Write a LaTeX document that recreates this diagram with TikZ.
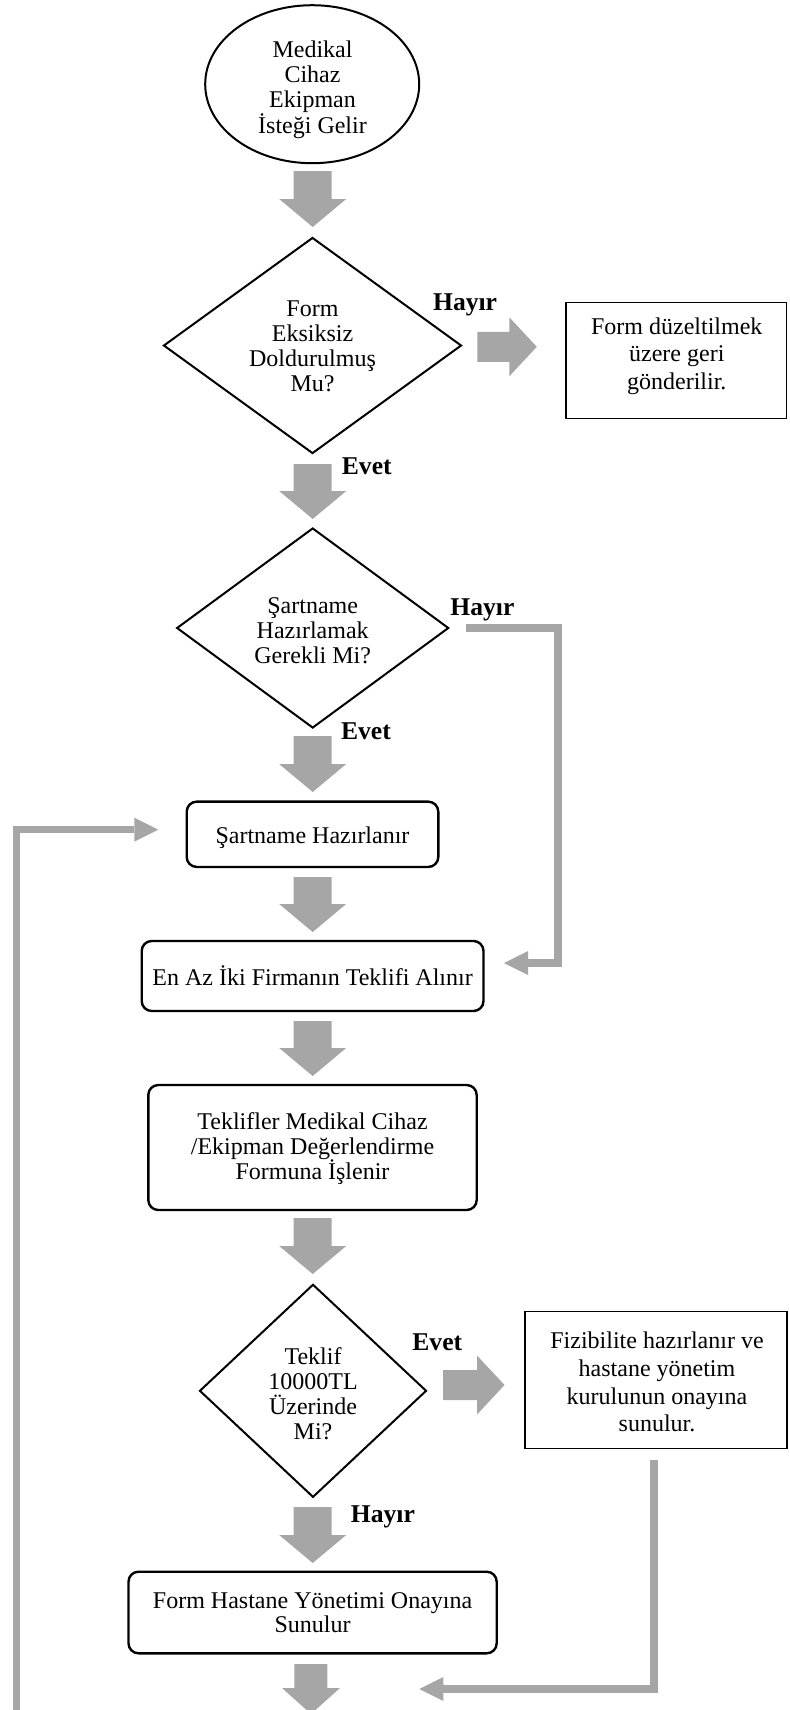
\documentclass[tikz,border=0pt]{standalone}
\usepackage{fontspec}
\setmainfont{Liberation Serif}
\usetikzlibrary{shapes.geometric,arrows.meta,calc}
\definecolor{agray}{RGB}{166,166,166}
\begin{document}
\begin{tikzpicture}[x=0.5pt,y=-0.5pt,
  txt/.style={inner sep=0pt, align=center, font=\fontsize{12}{12.5}\selectfont},
  lbl/.style={inner sep=0pt, anchor=base west, font=\fontsize{12.8}{13}\selectfont\bfseries},
  rbox/.style={draw, line width=1.2pt, rounded corners=5pt, inner sep=0pt},
  sbox/.style={draw, line width=0.7pt, inner sep=0pt},
  dia/.style={draw, diamond, line width=1pt, inner sep=0pt},
  oval/.style={draw, ellipse, line width=1pt, inner sep=0pt},
  conn/.style={draw=agray, line width=3.75pt, line join=miter, -{Triangle[length=12pt,width=12pt,line width=0pt]}},
  pics/downblock/.style={code={\fill[agray] (-19,0) -- (19,0) -- (19,#1) -- (33.5,#1) -- (0,#1+28) -- (-33.5,#1) -- (-19,#1) -- cycle;}},
  pics/rightblock/.style={code={\fill[agray] (0,-15) -- (#1,-15) -- (#1,-29.5) -- (#1+27.5,0) -- (#1,29.5) -- (#1,15) -- (0,15) -- cycle;}},
]
\useasboundingbox (0,0) rectangle (790,1710);
\clip (0,0) rectangle (790,1710);

% shapes and texts
\node[oval, minimum width=107pt, minimum height=79pt] (e) at (312.2,84.2) {};
\node[txt, font=\fontsize{12}{12.7}\selectfont] (et) at (312.5,89.5) {Medikal\\Cihaz\\Ekipman\\İsteği Gelir};

\node[dia, minimum width=149pt, minimum height=108pt] (d1) at (312.5,345.5) {};
\node[txt] (d1t) at (312.5,346.5) {Form\\Eksiksiz\\Doldurulmuş\\Mu?};

\node[sbox, minimum width=110.3pt, minimum height=58pt] (b1) at (676.3,360.3) {};
\node[txt, font=\fontsize{12}{13.7}\selectfont] (b1t) at (676.8,356) {Form düzeltilmek\\üzere geri\\gönderilir.};

\node[dia, minimum width=136pt, minimum height=100pt] (d2) at (312.7,628) {};
\node[txt] (d2t) at (312.7,630.5) {Şartname\\Hazırlamak\\Gerekli Mi?};

\node[rbox, minimum width=125.8pt, minimum height=32.65pt] (sh) at (312.5,834.3) {};
\node[txt, anchor=base] (sht) at (312.5,843) {Şartname Hazırlanır};

\node[rbox, minimum width=170.9pt, minimum height=35pt] (ea) at (312.6,976) {};
\node[txt, anchor=base] (eat) at (312.6,985) {En Az İki Firmanın Teklifi Alınır};

\node[rbox, minimum width=164.2pt, minimum height=62.5pt] (tk) at (312.5,1147.5) {};
\node[txt] (tkt) at (312.5,1148.5) {Teklifler Medikal Cihaz\\/Ekipman Değerlendirme\\Formuna İşlenir};

\node[dia, minimum width=113.5pt, minimum height=106.5pt] (d3) at (313,1390.8) {};
\node[txt] (d3t) at (313,1393.5) {Teklif\\10000TL\\Üzerinde\\Mi?};

\node[sbox, minimum width=131pt, minimum height=68.3pt] (fz) at (656,1380) {};
\node[txt, font=\fontsize{12}{13.9}\selectfont] (fzt) at (657,1382) {Fizibilite hazırlanır ve\\hastane yönetim\\kurulunun onayına\\sunulur.};

\node[rbox, minimum width=184.1pt, minimum height=40.8pt] (fh) at (312.6,1612.5) {};
\node[txt, font=\fontsize{12}{11.9}\selectfont] (fht) at (312.6,1612.9) {Form Hastane Yönetimi Onayına\\Sunulur};

% labels
\node[lbl] (l1) at (432.7,310.7) {Hayır};
\node[lbl] (l2) at (341.5,474) {Evet};
\node[lbl] (l3) at (450,615) {Hayır};
\node[lbl] (l4) at (340.7,739) {Evet};
\node[lbl] (l5) at (412,1350) {Evet};
\node[lbl] (l6) at (350.5,1522) {Hayır};

% block arrows
\pic at (312.7,171) {downblock=28};
\pic at (312.7,464) {downblock=27};
\pic at (312.7,736) {downblock=28};
\pic at (312.7,877) {downblock=27};
\pic at (312.7,1021) {downblock=27};
\pic at (312.7,1218) {downblock=28};
\pic at (312.7,1507) {downblock=28};
\fill[agray] (294.3,1664) -- (327.3,1664) -- (327.3,1688) -- (340,1688) -- (311,1714) -- (282,1688) -- (294.3,1688) -- cycle;
\pic at (477.3,346.8) {rightblock=32};
\pic at (443,1385) {rightblock=34};

% connectors
\coordinate (c1a) at (558,628);
\coordinate (c1b) at (558,963);
\coordinate (c1e) at (504,963);
\draw[conn] ($(d2.east)+(16,0)$) -- (c1a) -- (c1b) -- (c1e);

\coordinate (c2b) at (654,1689);
\coordinate (c2e) at (419.3,1689);
\draw[conn] ($(fz.south)+(-2,11)$) -- (c2b) -- (c2e);

\coordinate (c3s) at (16.5,1712);
\coordinate (c3b) at (16.5,829.7);
\coordinate (c3e) at (158.3,829.7);
\draw[conn] (c3s) -- (c3b) -- (c3e);
\end{tikzpicture}
\end{document}
